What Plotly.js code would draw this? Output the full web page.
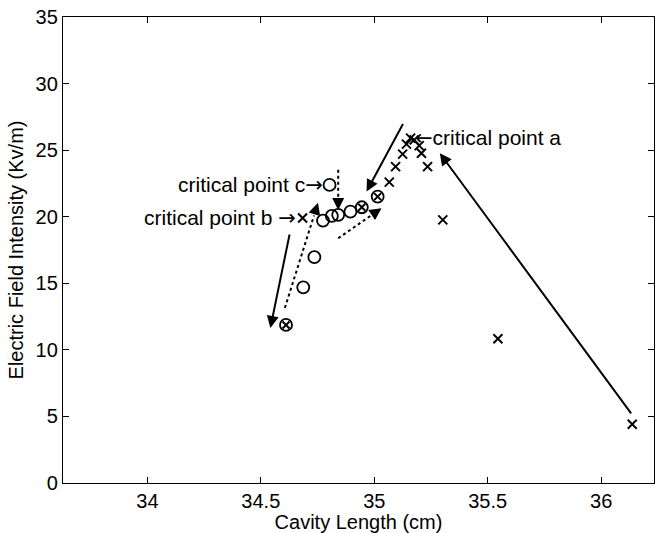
<!DOCTYPE html>
<html>
<head>
<meta charset="utf-8">
<script src="https://cdn.plot.ly/plotly-3.0.1.min.js"></script>
<style>html,body{margin:0;padding:0;background:#fff;}#chart{width:657px;height:533px;}</style>
</head>
<body>
<div id="chart"></div>
<script>
// Data
const crossX = [34.684, 35.066, 35.094, 35.125, 35.142, 35.160, 35.176, 35.198, 35.208, 35.235, 35.302, 35.545, 36.137];
const crossY = [19.9, 22.6, 23.76, 24.7, 25.45, 25.9, 25.77, 25.34, 24.77, 23.76, 19.76, 10.84, 4.41];
const circleX = [34.687, 34.736, 34.774, 34.813, 34.841, 34.895, 34.803];
const circleY = [14.7, 16.96, 19.71, 20.06, 20.14, 20.38, 22.39];
const bothX = [34.611, 34.945, 35.015];
const bothY = [11.87, 20.71, 21.51];
const xTicks = [34, 34.5, 35, 35.5, 36];
const xTickText = ['34', '34.5', '35', '35.5', '36'];
const yTicks = [0, 5, 10, 15, 20, 25, 30, 35];

// Arrows: [tailX, tailY, headX, headY]
const solidArrows = [
  [36.137, 5.11, 35.289, 24.77],
  [35.130, 27.07, 34.966, 21.89],
  [34.628, 18.78, 34.542, 11.65]
];
const dottedArrows = [
  [34.606, 13.15, 34.752, 21.04],
  [34.841, 23.52, 34.841, 20.51],
  [34.841, 18.38, 35.032, 20.64]
];
const ARW_R = '<span style="font-family:DejaVu Sans">\u2192</span>';
const ARW_L = '<span style="font-family:DejaVu Sans">\u2190</span>';
// Labels: [text, x, y, anchor, xshift]
const labels = [
  ['critical point c' + ARW_R, 34.803, 22.39, 'right', -5],
  ['critical point b ' + ARW_R, 34.684, 19.9, 'right', -5],
  [ARW_L + 'critical point a', 35.160, 25.9, 'left', 2]
];

const FONT = 'Liberation Sans, Arial, Helvetica, sans-serif';

const traces = [
  {x: circleX, y: circleY, type: 'scatter', mode: 'markers',
   marker: {symbol: 'circle-open', size: 12, color: 'black', line: {width: 1.8, color: 'black'}}},
  {x: bothX, y: bothY, type: 'scatter', mode: 'markers',
   marker: {symbol: 'circle-open', size: 12, color: 'black', line: {width: 1.8, color: 'black'}}},
  {x: bothX, y: bothY, type: 'scatter', mode: 'markers',
   marker: {symbol: 'x-thin-open', size: 7, color: 'black', line: {width: 2, color: 'black'}}},
  {x: crossX, y: crossY, type: 'scatter', mode: 'markers',
   marker: {symbol: 'x-thin-open', size: 9, color: 'black', line: {width: 2, color: 'black'}}}
];

const annotations = [];
solidArrows.forEach(a => {
  annotations.push({x: a[2], y: a[3], ax: a[0], ay: a[1], xref: 'x', yref: 'y', axref: 'x', ayref: 'y',
    text: '', showarrow: true, arrowhead: 2, arrowsize: 1.2, arrowwidth: 2, arrowcolor: 'black'});
});
const shapes = [];
dottedArrows.forEach(a => {
  const f = 0.12;
  const sx = a[2] + f * (a[0] - a[2]);
  const sy = a[3] + f * (a[1] - a[3]);
  shapes.push({type: 'line', xref: 'x', yref: 'y', x0: a[0], y0: a[1], x1: sx, y1: sy,
    line: {color: 'black', width: 2, dash: 'dot'}});
  annotations.push({x: a[2], y: a[3], ax: sx, ay: sy, xref: 'x', yref: 'y', axref: 'x', ayref: 'y',
    text: '', showarrow: true, arrowhead: 2, arrowsize: 1.2, arrowwidth: 2, arrowcolor: 'black'});
});
labels.forEach(l => {
  annotations.push({x: l[1], y: l[2], xref: 'x', yref: 'y', text: l[0], showarrow: false,
    xanchor: l[3], yanchor: 'middle', xshift: l[4], font: {family: FONT, size: 21, color: 'black'}});
});

const axisCommon = {
  showline: true, linecolor: 'black', linewidth: 1.2, mirror: 'ticks',
  ticks: 'inside', ticklen: 6, tickwidth: 1, tickcolor: 'black',
  showgrid: false, zeroline: false,
  tickfont: {family: FONT, size: 20, color: 'black'}
};

const layout = {
  width: 657, height: 533,
  margin: {l: 63, r: 3, t: 17, b: 50},
  paper_bgcolor: 'white', plot_bgcolor: 'white',
  showlegend: false,
  font: {family: FONT, color: 'black'},
  xaxis: Object.assign({}, axisCommon, {
    range: [33.628, 36.233], tickvals: xTicks, ticktext: xTickText,
    title: {text: 'Cavity Length (cm)', font: {family: FONT, size: 20, color: 'black'}, standoff: 2}
  }),
  yaxis: Object.assign({}, axisCommon, {
    range: [0, 35], tickvals: yTicks,
    title: {text: 'Electric Field Intensity (Kv/m)', font: {family: FONT, size: 20, color: 'black'}, standoff: 6}
  }),
  shapes: shapes,
  annotations: annotations
};

Plotly.newPlot('chart', traces, layout, {displayModeBar: false, staticPlot: true});
</script>
</body>
</html>
